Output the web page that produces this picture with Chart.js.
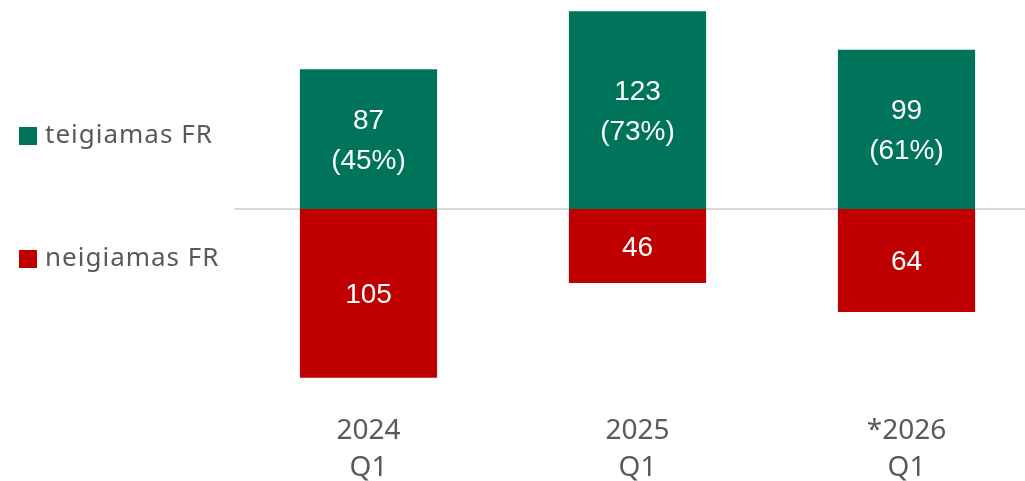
<!DOCTYPE html>
<html>
<head>
<meta charset="utf-8">
<script src="https://cdn.jsdelivr.net/npm/chart.js@4.4.1/dist/chart.umd.min.js"></script>
<style>
  html, body { margin: 0; padding: 0; background: #fff; overflow: hidden; }
  #wrap { width: 1045px; height: 481px; }
</style>
</head>
<body>
<div id="wrap"><canvas id="chart"></canvas></div>
<script>
const categories = [["2024", "Q1"], ["2025", "Q1"], ["*2026", "Q1"]];
const positive = [87, 123, 99];
const positiveShare = ["45%", "73%", "61%"];
const negative = [105, 46, 64];
const seriesNames = ["teigiamas FR", "neigiamas FR"];

const green = "#00745A";
const red = "#C00000";
const grey = "#595959";

// zero line, legend on the left, value labels inside bars
const extras = {
  id: "extras",
  beforeDatasetsDraw(chart) {
    const { ctx, chartArea, scales } = chart;
    const y0 = scales.y.getPixelForValue(0);
    ctx.save();
    ctx.strokeStyle = "#d9d9d9";
    ctx.lineWidth = 2;
    ctx.beginPath();
    ctx.moveTo(chartArea.left, y0);
    ctx.lineTo(chartArea.right, y0);
    ctx.stroke();
    ctx.restore();
  },
  afterDatasetsDraw(chart) {
    const { ctx } = chart;
    ctx.save();
    ctx.fillStyle = "#fff";
    ctx.textAlign = "center";
    ctx.textBaseline = "middle";
    ctx.font = "28px 'Liberation Sans', Arial, sans-serif";
    chart.getDatasetMeta(0).data.forEach((bar, i) => {
      const mid = (bar.y + bar.base) / 2;
      ctx.fillText(String(positive[i]), bar.x, mid - 18);
      ctx.fillText("(" + positiveShare[i] + ")", bar.x, mid + 22);
    });
    chart.getDatasetMeta(1).data.forEach((bar, i) => {
      const mid = (bar.y + bar.base) / 2;
      ctx.fillText(String(negative[i]), bar.x, mid + 2);
    });

    // legend
    const items = [[seriesNames[0], green, 136], [seriesNames[1], red, 259]];
    ctx.textAlign = "left";
    ctx.font = "26px 'Noto Sans', sans-serif";
    ctx.letterSpacing = "1px";
    items.forEach(([label, color, y]) => {
      ctx.fillStyle = color;
      ctx.fillRect(19, y - 9, 18, 18);
      ctx.fillStyle = grey;
      ctx.fillText(label, 45, y);
    });
    ctx.restore();
  }
};

new Chart(document.getElementById("chart"), {
  type: "bar",
  data: {
    labels: categories,
    datasets: [
      { label: seriesNames[0], data: positive, backgroundColor: green, stack: "s" },
      { label: seriesNames[1], data: negative.map(v => -v), backgroundColor: red, stack: "s" }
    ]
  },
  options: {
    responsive: true,
    maintainAspectRatio: false,
    animation: false,
    layout: { padding: { left: 234, right: 4, top: 0, bottom: 0 } },
    plugins: {
      legend: { display: false },
      tooltip: { enabled: false }
    },
    datasets: { bar: { categoryPercentage: 1, barPercentage: 0.51 } },
    scales: {
      x: {
        stacked: true,
        grid: { display: false },
        border: { display: false },
        ticks: {
          color: grey,
          padding: 4,
          font: { family: "'Noto Sans', sans-serif", size: 28, lineHeight: 1.3 }
        },
        afterFit(scale) { scale.height = 80; }
      },
      y: {
        display: false,
        stacked: true,
        min: -119.4,
        max: 130
      }
    }
  },
  plugins: [extras]
});
</script>
</body>
</html>
